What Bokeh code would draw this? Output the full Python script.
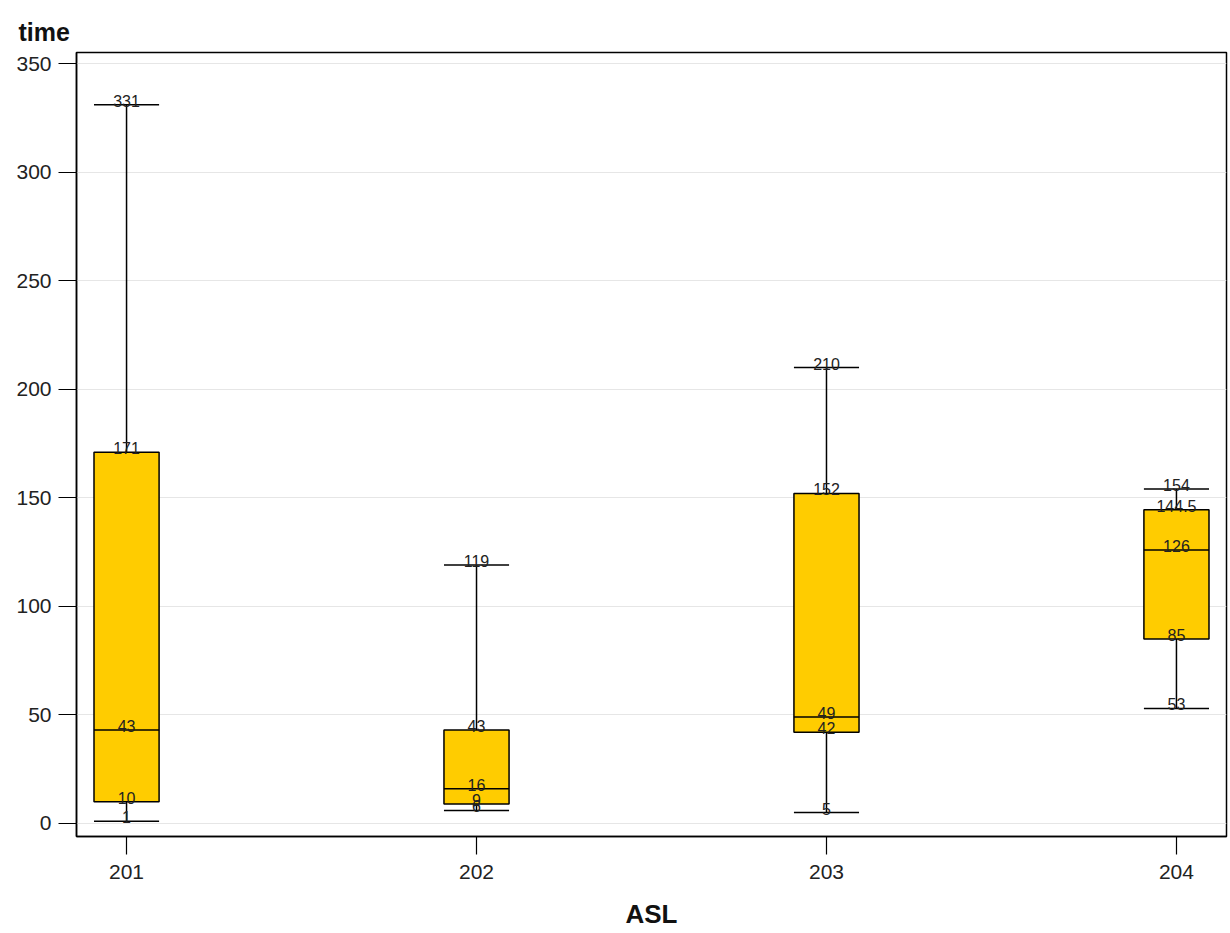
from bokeh.plotting import figure
from bokeh.models import ColumnDataSource, Range1d, FixedTicker
from bokeh.transform import dodge
from bokeh.core.properties import value
from bokeh.embed import file_html
from bokeh.resources import INLINE

categories = [201, 202, 203, 204]
mins = [1, 6, 5, 53]
q1s = [10, 9, 42, 85]
medians = [43, 16, 49, 126]
q3s = [171, 43, 152, 144.5]
maxs = [331, 119, 210, 154]

BOX_W = 0.186
FONT = "Liberation Sans"

p = figure(frame_width=1150, frame_height=784, width=1228, height=932,
           output_backend="svg", toolbar_location=None,
           x_range=Range1d(200.857, 204.143), y_range=Range1d(-6, 355.1),
           min_border_left=76, min_border_right=2, min_border_top=52, min_border_bottom=96)

p.title.text = "time"
p.title.text_font = FONT
p.title.text_font_size = "25px"
p.title.text_font_style = "bold"
p.title.align = "left"
p.title.vertical_align = "top"
p.title.offset = -58
p.title.standoff = 10
p.title.text_color = "#111111"

src = ColumnDataSource(dict(x=categories, lo=mins, q1=q1s, med=medians, q3=q3s, hi=maxs))

# whiskers
p.segment(x0="x", y0="lo", x1="x", y1="q1", source=src, line_color="black", line_width=1.5)
p.segment(x0="x", y0="q3", x1="x", y1="hi", source=src, line_color="black", line_width=1.5)
# caps
left = dodge("x", -BOX_W / 2)
right = dodge("x", BOX_W / 2)
p.segment(x0=left, y0="lo", x1=right, y1="lo", source=src, line_color="black", line_width=1.5)
p.segment(x0=left, y0="hi", x1=right, y1="hi", source=src, line_color="black", line_width=1.5)
# boxes
p.vbar(x="x", bottom="q1", top="q3", width=BOX_W, source=src,
       fill_color="#FFCC00", line_color="black", line_width=1.5)
# median
p.segment(x0=left, y0="med", x1=right, y1="med", source=src, line_color="black", line_width=1.5)

# value labels
lx, ly, lt = [], [], []
for i, c in enumerate(categories):
    for v in (mins[i], q1s[i], medians[i], q3s[i], maxs[i]):
        lx.append(c)
        ly.append(v)
        lt.append(f"{v:g}")
lsrc = ColumnDataSource(dict(x=lx, y=ly, t=lt))
p.text(x="x", y="y", text="t", source=lsrc, text_align="center", text_baseline="bottom",
       y_offset=2, text_font_size="16px", text_color="#222222", text_font=value(FONT))

# axes
p.xaxis.ticker = FixedTicker(ticks=categories)
p.yaxis.ticker = FixedTicker(ticks=[0, 50, 100, 150, 200, 250, 300, 350])
for ax in (p.xaxis[0], p.yaxis[0]):
    ax.major_tick_out = 18
    ax.major_tick_in = 0
    ax.minor_tick_out = 0
    ax.minor_tick_in = 0
    ax.major_tick_line_color = "black"
    ax.major_tick_line_width = 1.2
    ax.axis_line_color = "black"
    ax.axis_line_width = 1.5
    ax.major_label_text_font = FONT
    ax.major_label_text_font_size = "21px"
    ax.major_label_text_color = "#222222"
p.yaxis.major_label_standoff = 7
p.xaxis.major_label_standoff = 10
p.xaxis.axis_label = "ASL"
p.xaxis.axis_label_text_font = FONT
p.xaxis.axis_label_text_font_size = "26px"
p.xaxis.axis_label_text_font_style = "bold"
p.xaxis.axis_label_text_color = "#111111"
p.xaxis.axis_label_standoff = 17

p.xgrid.grid_line_color = None
p.ygrid.grid_line_color = "#e6e6e6"
p.ygrid.grid_line_width = 1
p.outline_line_color = "black"
p.outline_line_width = 1.5
p.outline_line_alpha = 1

open("out.html", "w").write(file_html(p, INLINE))
